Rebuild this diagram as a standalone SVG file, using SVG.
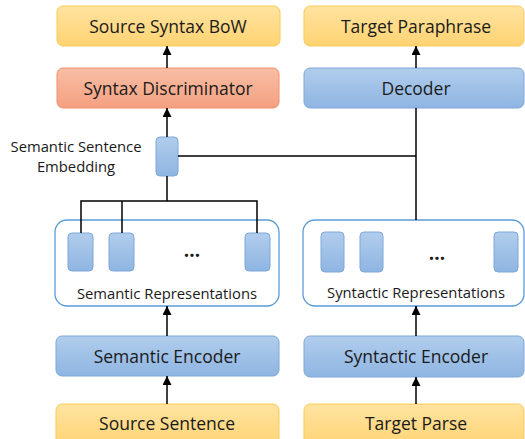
<svg xmlns="http://www.w3.org/2000/svg" width="525" height="439" viewBox="0 0 525 439">
<defs>
<linearGradient id="gY" x1="0" y1="0" x2="0" y2="1"><stop offset="0" stop-color="#FFE3A0"/><stop offset="1" stop-color="#FFD372"/></linearGradient>
<linearGradient id="gO" x1="0" y1="0" x2="0" y2="1"><stop offset="0" stop-color="#F8BEA4"/><stop offset="1" stop-color="#F4A080"/></linearGradient>
<linearGradient id="gB" x1="0" y1="0" x2="0" y2="1"><stop offset="0" stop-color="#B1CDEC"/><stop offset="1" stop-color="#8EB5E2"/></linearGradient>
<marker id="arr" viewBox="0 0 10 10" refX="10" refY="5" markerWidth="6" markerHeight="6" orient="auto"><path d="M0,0 L10,5 L0,10 z" fill="#000"/></marker>
<style>
.y{fill:url(#gY);stroke:#F8CB57;stroke-width:1}
.o{fill:url(#gO);stroke:#F0906C;stroke-width:1}
.b{fill:url(#gB);stroke:#7EA8D8;stroke-width:1}
.c{fill:#fff;stroke:#5B9BD5;stroke-width:1.3}
.t{font-family:"Open Sans","Liberation Sans",sans-serif;font-size:17.5px;fill:#1a1a1a;text-anchor:middle;dominant-baseline:central}
.s{font-family:"Open Sans","Liberation Sans",sans-serif;font-size:14.8px;fill:#1a1a1a;text-anchor:middle;dominant-baseline:central}
.d{font-family:"Open Sans","Liberation Sans",sans-serif;font-size:19px;font-weight:bold;fill:#1a1a1a;text-anchor:middle}
.ln{fill:none;stroke:#000;stroke-width:1.5}
</style>
</defs>
<g id="source-syntax-bow"><rect class="y" x="57" y="6" width="223" height="40" rx="6"/><text class="t" x="168" y="26">Source Syntax BoW</text></g>
<g id="target-paraphrase"><rect class="y" x="304" y="6" width="220" height="40" rx="6"/><text class="t" x="416" y="26">Target Paraphrase</text></g>
<g id="syntax-discriminator"><rect class="o" x="57" y="68" width="222" height="40" rx="6"/><text class="t" x="168" y="88">Syntax Discriminator</text></g>
<g id="decoder"><rect class="b" x="304" y="68" width="220" height="40" rx="6"/><text class="t" x="416" y="88">Decoder</text></g>
<g id="semantic-sentence-embedding"><rect class="b" x="156" y="137" width="22" height="39" rx="4"/><text class="s" x="76" y="146">Semantic Sentence</text><text class="s" x="76" y="166">Embedding</text></g>
<g id="semantic-representations"><rect class="c" x="55" y="220" width="224" height="86" rx="12"/>
<rect class="b" x="68" y="233" width="25" height="38" rx="4"/><rect class="b" x="109" y="233" width="25" height="38" rx="4"/><rect class="b" x="245" y="233" width="25" height="38" rx="4"/>
<text class="d" x="192" y="257">...</text><text class="s" x="167" y="293">Semantic Representations</text></g>
<g id="syntactic-representations"><rect class="c" x="303" y="220" width="221" height="86" rx="12"/>
<rect class="b" x="321" y="232" width="23" height="40" rx="4"/><rect class="b" x="360" y="232" width="23" height="40" rx="4"/><rect class="b" x="494" y="232" width="24" height="40" rx="4"/>
<text class="d" x="437" y="260">...</text><text class="s" x="416" y="292">Syntactic Representations</text></g>
<g id="semantic-encoder"><rect class="b" x="56" y="336" width="223" height="40" rx="6"/><text class="t" x="167" y="356">Semantic Encoder</text></g>
<g id="syntactic-encoder"><rect class="b" x="304" y="336" width="220" height="41" rx="6"/><text class="t" x="416" y="356">Syntactic Encoder</text></g>
<g id="source-sentence"><rect class="y" x="56" y="404" width="223" height="45" rx="6"/><text class="t" x="167" y="423">Source Sentence</text></g>
<g id="target-parse"><rect class="y" x="304" y="404" width="220" height="45" rx="6"/><text class="t" x="416" y="423">Target Parse</text></g>
<g id="connectors">
<line class="ln" x1="167" y1="68" x2="167" y2="46" marker-end="url(#arr)"/>
<line class="ln" x1="167" y1="137" x2="167" y2="108" marker-end="url(#arr)"/>
<line class="ln" x1="416" y1="68" x2="416" y2="46" marker-end="url(#arr)"/>
<line class="ln" x1="167" y1="176" x2="167" y2="201"/>
<polyline class="ln" points="81,233 81,201 257,201 257,233"/>
<line class="ln" x1="122" y1="201" x2="122" y2="233"/>
<line class="ln" x1="178" y1="156" x2="416" y2="156"/>
<line class="ln" x1="416" y1="220" x2="416" y2="108"/>
<line class="ln" x1="167" y1="336" x2="167" y2="306" marker-end="url(#arr)"/>
<line class="ln" x1="416" y1="336" x2="416" y2="306" marker-end="url(#arr)"/>
<line class="ln" x1="167" y1="404" x2="167" y2="376" marker-end="url(#arr)"/>
<line class="ln" x1="416" y1="404" x2="416" y2="377" marker-end="url(#arr)"/>
</g>
</svg>
